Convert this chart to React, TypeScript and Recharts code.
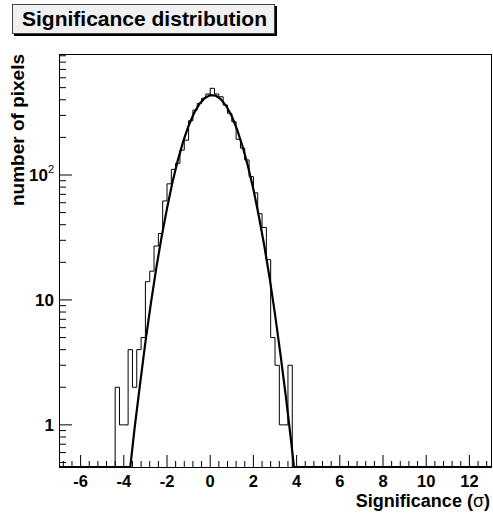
import React from "react";
import { LineChart, Line, XAxis, YAxis } from "recharts";

const W = 493;
const H = 514;
const X_MIN = -7;
const X_MAX = 13;
const Y_MIN = 0.46;
const Y_MAX = 930;

// axis labels / ticks
const xMajorTicks = [-6, -4, -2, 0, 2, 4, 6, 8, 10, 12];
const yMajorTicks = [1, 10, 100];
const yMinorTicks = [
  0.5, 0.6, 0.7, 0.8, 0.9, 2, 3, 4, 5, 6, 7, 8, 9, 20, 30, 40, 50, 60, 70, 80,
  90, 200, 300, 400, 500, 600, 700, 800, 900,
];

// histogram: bins of 0.2 starting at -4.4
const binStart = -4.4;
const binWidth = 0.2;
const binCounts = [
  2, 1, 1, 4, 2, 4, 5, 14, 17, 27, 34, 62, 85, 111, 124, 158, 190, 272, 331,
  374, 411, 445, 494, 445, 423, 363, 312, 267, 193, 164, 132, 97, 72, 49, 38,
  21, 5, 3, 1, 1, 3,
];

// gaussian fit curve (clamped to frame bottom)
const fitX = [
  -7, -3.7, -3.5, -3.25, -3.0, -2.75, -2.5, -2.25, -2.0, -1.75, -1.5, -1.25,
  -1.0, -0.75, -0.5, -0.25, 0, 0.25, 0.5, 0.75, 1.0, 1.25, 1.5, 1.75, 2.0,
  2.25, 2.5, 2.75, 3.0, 3.25, 3.5, 3.75, 3.88, 13,
];
const fitY = [
  Y_MIN, Y_MIN, 0.94, 2.1, 4.6, 9.3, 17.8, 32, 54, 87, 131, 186, 248, 312,
  370, 414, 435, 432, 403, 355, 295, 230, 169, 117, 77, 47, 27.4, 15, 7.7,
  3.7, 1.7, 0.73, Y_MIN, Y_MIN,
];

const r1 = (v: number) => Math.round(v * 10) / 10;

const histData = [
  { x: X_MIN, n: Y_MIN },
  ...binCounts.map((c, i) => ({ x: r1(binStart + i * binWidth), n: c })),
  { x: r1(binStart + binCounts.length * binWidth), n: Y_MIN },
  { x: X_MAX, n: Y_MIN },
];

const fitData = fitX.map((x, i) => ({ x, f: fitY[i] }));

// minor x ticks every 0.4 (5 per major division)
const xTicks: number[] = [];
for (let k = -2; k <= 47; k++) {
  const v = r1(-6 + 0.4 * k);
  if (v > X_MIN && v < X_MAX) xTicks.push(v);
}
const yTicks = [...yMinorTicks, ...yMajorTicks].sort((a, b) => a - b);

const font = "'Liberation Sans', Arial, Helvetica, sans-serif";

const XTick = (props: any) => {
  const { x, y, payload } = props;
  const v = payload.value;
  const major = xMajorTicks.some((m) => Math.abs(m - v) < 1e-6);
  return (
    <g>
      <line x1={x} x2={x} y1={y} y2={y - (major ? 12 : 6)} stroke="#000" />
      {major && (
        <text
          x={x}
          y={y + 20}
          textAnchor="middle"
          fontFamily={font}
          fontWeight="bold"
          fontSize={16.5}
          fill="#000"
        >
          {v}
        </text>
      )}
    </g>
  );
};

const YTick = (props: any) => {
  const { x, y, payload } = props;
  const v = payload.value;
  const major = yMajorTicks.includes(v);
  return (
    <g>
      <line x1={x} x2={x + (major ? 13 : 7)} y1={y} y2={y} stroke="#000" />
      {major && v < 100 && (
        <text
          x={x - 5}
          y={y + 6}
          textAnchor="end"
          fontFamily={font}
          fontWeight="bold"
          fontSize={17}
          fill="#000"
        >
          {v}
        </text>
      )}
      {v === 100 && (
        <text
          x={x - 5}
          y={y + 6}
          textAnchor="end"
          fontFamily={font}
          fontWeight="bold"
          fontSize={17}
          fill="#000"
        >
          10
          <tspan fontSize={11} fontWeight="normal" dy={-8}>
            2
          </tspan>
        </text>
      )}
    </g>
  );
};

export default function App() {
  return (
    <div style={{ position: "absolute", left: 0, top: 0, width: W, height: H, background: "#fff" }}>
      <LineChart
        width={W}
        height={H}
        margin={{ top: 54, right: 2, bottom: 0, left: 0 }}
      >
        <XAxis
          type="number"
          dataKey="x"
          domain={[X_MIN, X_MAX]}
          allowDataOverflow
          ticks={xTicks}
          interval={0}
          height={47}
          tickSize={0}
          tickMargin={0}
          axisLine={false}
          tickLine={false}
          tick={XTick}
        />
        <YAxis
          scale="log"
          domain={[Y_MIN, Y_MAX]}
          allowDataOverflow
          ticks={yTicks}
          interval={0}
          width={59}
          tickSize={0}
          tickMargin={0}
          axisLine={false}
          tickLine={false}
          tick={YTick}
        />
        <Line
          data={histData}
          dataKey="n"
          type="stepAfter"
          stroke="#000"
          strokeWidth={1}
          dot={false}
          isAnimationActive={false}
        />
        <Line
          data={fitData}
          dataKey="f"
          type="linear"
          stroke="#000"
          strokeWidth={2.2}
          dot={false}
          isAnimationActive={false}
        />
      </LineChart>

      {/* frame */}
      <div
        style={{
          position: "absolute",
          left: 59,
          top: 54,
          width: 433,
          height: 414,
          boxSizing: "border-box",
          border: "1px solid #000",
          pointerEvents: "none",
        }}
      />

      {/* title box */}
      <div
        style={{
          position: "absolute",
          left: 12,
          top: 4,
          width: 263,
          height: 30,
          boxSizing: "border-box",
          border: "1px solid #444",
          background: "#f0f0f0",
          boxShadow: "2px 2px 0 #000",
          fontFamily: font,
          fontWeight: "bold",
          fontSize: 21,
          lineHeight: "28px",
          paddingLeft: 9,
          color: "#000",
          whiteSpace: "nowrap",
        }}
      >
        Significance distribution
      </div>

      {/* axis titles */}
      <svg
        width={W}
        height={H}
        style={{ position: "absolute", left: 0, top: 0, pointerEvents: "none" }}
      >
        <text
          transform="translate(24,54) rotate(-90)"
          textAnchor="end"
          fontFamily={font}
          fontWeight="bold"
          fontSize={19}
          fill="#000"
        >
          number of pixels
        </text>
        <text
          x={490}
          y={507}
          textAnchor="end"
          fontFamily={font}
          fontWeight="bold"
          fontSize={18}
          fill="#000"
        >
          Significance (<tspan fontWeight="normal">σ</tspan>)
        </text>
      </svg>
    </div>
  );
}
